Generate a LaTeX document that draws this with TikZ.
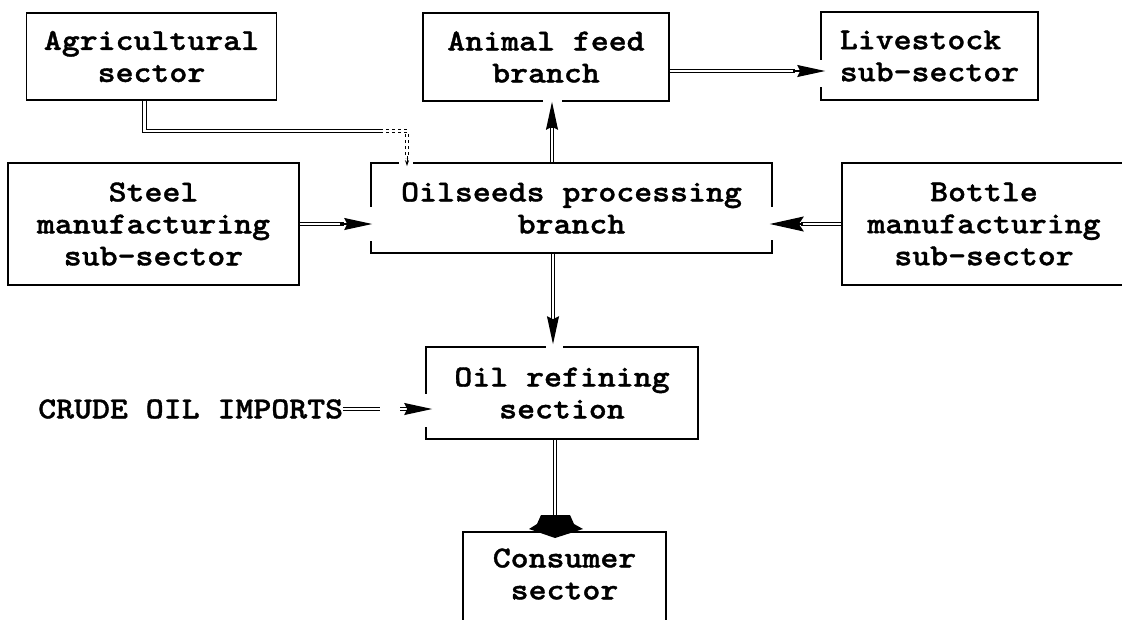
\documentclass[tikz,border=0pt]{standalone}
\usepackage{fontspec}
\newfontfamily\cour{lmmonolt10-bold}[Extension=.otf, FakeStretch=1.12, FakeBold=1.2]
\usetikzlibrary{arrows.meta,calc}
\begin{document}
\begin{tikzpicture}[x=1pt,y=-1pt,
  txt/.style={inner sep=0pt, align=center, font=\fontsize{30.5}{32}\cour},
  box/.style={txt, draw, line width=1.6pt},
  dl/.style={line width=1.1pt, double distance=2.2pt, double=white},
  hs/.style={line width=1.2pt, -{Stealth[length=28pt,width=12pt,inset=3pt]}},
  hb/.style={line width=1.2pt, -{Stealth[length=34pt,width=15pt,inset=5pt]}},
  gap/.style={fill=white}]
\useasboundingbox (0,0) rectangle (1122,619);
\clip (0,0) rectangle (1122,619);
% boxes
\node[box, minimum width=250pt, minimum height=87pt] (agri) at (151.5,56.5) {Agricultural\\sector};
\node[box, minimum width=246pt, minimum height=88pt] (feed) at (546,57) {Animal feed\\branch};
\node[box, minimum width=217pt, minimum height=88pt, align=left] (live) at (929.5,56) {Livestock\\sub-sector};
\node[box, minimum width=291pt, minimum height=122pt] (steel) at (153.5,224) {Steel\\manufacturing\\sub-sector};
\node[box, minimum width=401pt, minimum height=90pt] (oil) at (571.5,208) {Oilseeds processing\\branch};
\node[box, minimum width=284pt, minimum height=122pt] (bottle) at (984,224) {Bottle\\manufacturing\\sub-sector};
\node[box, minimum width=272pt, minimum height=92pt] (refine) at (562,393) {Oil refining\\section};
\node[txt, minimum width=203pt, minimum height=84pt] (cons) at (564.5,574) {Consumer\\sector};
\draw[line width=1.6pt] ($(cons.south west)+(0,20)$) -- (cons.north west) -- (cons.north east) -- ($(cons.south east)+(0,20)$);
\node[txt, anchor=west] (crude) at (38,409) {CRUDE OIL IMPORTS};
% helper coordinates
\coordinate (ya) at (0,224);
\coordinate (yl) at (0,71);
\coordinate (xag) at (407,0);
\coordinate (xup) at (552,0);
\coordinate (xdn) at (553,0);
\coordinate (xcs) at (555,0);
% gaps in box edges where arrows enter
\fill[gap] (368,207) rectangle (375,241);
\fill[gap] (768,207) rectangle (776,240);
\fill[gap] (543,97) rectangle (562,105);
\fill[gap] (817,60) rectangle (825,87);
\fill[gap] (546,344) rectangle (563,351);
\fill[gap] (422,394) rectangle (430,427);
\fill[gap] (399,159) rectangle (413,167);
% connectors
\draw[dl] ($(agri.south)+(-7,0)$) |- (380,131);
\draw[dl, dashed] (380,131) -| (407,158);
\draw[line width=1pt, -{Stealth[length=6pt,width=4pt]}] (407,156) -- ($(oil.north -| xag)+(0,4)$);
\draw[dl] (steel.east) -- ++(44,0);
\draw[hs] ($(steel.east)+(40,0)$) -- ($(oil.west |- ya)+(2,0)$);
\draw[dl] (bottle.west) -- ++(-40,0);
\draw[hb] ($(bottle.west)+(-38,0)$) -- ($(oil.east |- ya)+(-3,0)$);
\draw[dl] (oil.north -| xup) -- (552,126);
\draw[hs] (552,128) -- (feed.south -| xup);
\draw[dl] (feed.east |- yl) -- (795,71);
\draw[hs] (793,71) -- ($(live.west |- yl)+(5,0)$);
\draw[dl] (oil.south -| xdn) -- (553,322);
\draw[hs] (553,320) -- ($(refine.north -| xdn)+(0,-2)$);
\draw[dl] (crude.east) -- (380,409);
\draw[dl] (400,409) -- (412,409);
\draw[hs] (408,409) -- ($(refine.west |- crude.east)+(7,0)$);
\draw[dl] (refine.south -| xcs) -- (555,517);
\fill (541,515) -- (570,515) -- (574,524) -- (583,529) -- (555,538) -- (529,529) -- (537,524) -- cycle;
\end{tikzpicture}
\end{document}
